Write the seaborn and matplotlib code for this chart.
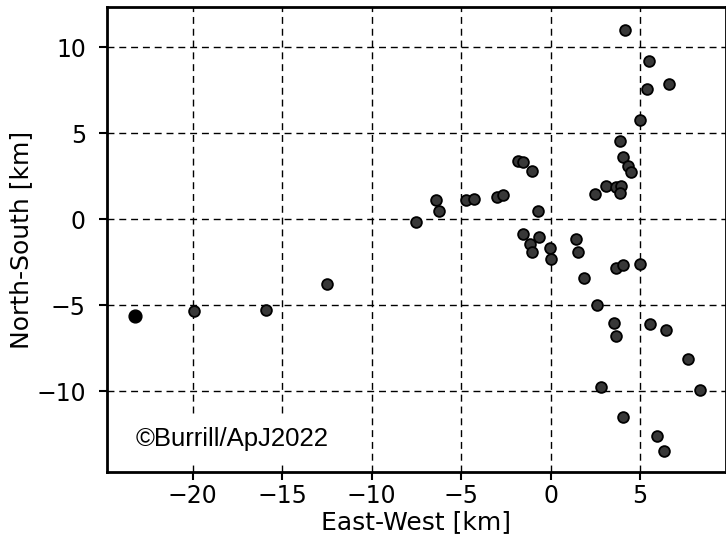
import matplotlib
matplotlib.use("Agg")
import matplotlib.pyplot as plt
import seaborn as sns
import pandas as pd

east_west = [-23.2, -19.9, -15.9, -12.5, -7.53, -6.42, -6.25, -4.74, -4.30, -3.01,
             -2.68, -1.84, -1.56, -1.06, -0.73, -1.56, -0.67, -1.17, -1.06, -0.06,
             0.0, 1.40, 1.51, 1.84, 2.57, 2.46, 3.12, 3.68, 3.96, 3.85,
             3.85, 4.02, 4.30, 4.52, 3.63, 4.07, 4.97, 3.52, 3.68, 5.58,
             6.47, 7.70, 8.37, 2.79, 4.02, 5.92, 6.36, 4.13, 5.47, 5.41,
             6.64, 5.02]
north_south = [-5.64, -5.35, -5.29, -3.78, -0.17, 1.10, 0.47, 1.10, 1.16, 1.28,
               1.40, 3.37, 3.31, 2.79, 0.47, -0.87, -1.05, -1.45, -1.92, -1.69,
               -2.33, -1.16, -1.92, -3.43, -5.00, 1.45, 1.92, 1.86, 1.92, 1.51,
               4.53, 3.60, 3.08, 2.73, -2.85, -2.67, -2.62, -6.05, -6.80, -6.10,
               -6.45, -8.14, -9.94, -9.77, -11.5, -12.6, -13.5, 11.0, 9.19, 7.56,
               7.85, 5.76]
solid = [True] + [False] * (len(east_west) - 1)

xticks = [-20, -15, -10, -5, 0, 5]
yticks = [-10, -5, 0, 5, 10]
credit = "©Burrill/ApJ2022"

df = pd.DataFrame({"ew": east_west, "ns": north_south, "solid": solid})

sns.set_theme(style="white")
plt.rcParams["font.family"] = ["DejaVu Sans"]
plt.rcParams["text.color"] = "black"
plt.rcParams["axes.labelcolor"] = "black"
plt.rcParams["xtick.color"] = "black"
plt.rcParams["ytick.color"] = "black"

fig = plt.figure(figsize=(7.26, 5.4), dpi=100)
ax = fig.add_axes([0.147, 0.126, 0.853, 0.861])

for v in xticks:
    ax.axvline(v, color="black", lw=1.0, ls=(0, (5, 3.5)), zorder=1)
for v in yticks:
    ax.axhline(v, color="black", lw=1.0, ls=(0, (5, 3.5)), zorder=1)

sns.scatterplot(data=df[~df.solid], x="ew", y="ns", ax=ax, s=60,
                color="0.22", edgecolor="black", linewidth=1.3, zorder=3)
sns.scatterplot(data=df[df.solid], x="ew", y="ns", ax=ax, s=85,
                color="black", edgecolor="black", linewidth=1.0, zorder=3)

ax.text(-23.2, -12.8, credit, fontsize=18.5, family=["Liberation Sans"],
        va="center", ha="left", zorder=4, color="black",
        bbox=dict(facecolor="white", edgecolor="none", pad=9))

ax.set_xlim(-24.8, 9.8)
ax.set_ylim(-14.7, 12.33)
ax.set_xticks(xticks)
ax.set_yticks(yticks)
ax.set_xlabel("East-West [km]", fontsize=18, labelpad=1)
ax.set_ylabel("North-South [km]", fontsize=18, labelpad=2)
ax.tick_params(axis="both", labelsize=17, direction="out", length=6, width=1.5,
               colors="black", bottom=True, left=True)
ax.tick_params(axis="y", pad=9)
ax.tick_params(axis="x", pad=3)
for sp in ax.spines.values():
    sp.set_linewidth(2)
    sp.set_color("black")
    sp.set_zorder(5)
ax.grid(False)

fig.savefig("out.png", dpi=100)
